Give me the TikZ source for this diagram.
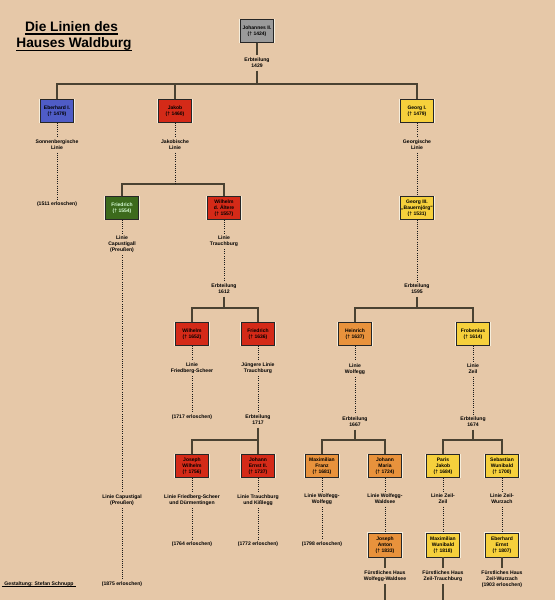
\documentclass[tikz,border=0pt]{standalone}
\usepackage{fontspec}
\setmainfont{Liberation Sans}
\definecolor{bg}{HTML}{E6C8A8}
\definecolor{halo}{HTML}{F6EEDC}
\definecolor{linec}{HTML}{4A4232}
\definecolor{cgray}{HTML}{9A9A9A}
\definecolor{cblue}{HTML}{4F5CC6}
\definecolor{cred}{HTML}{D42A18}
\definecolor{cgreen}{HTML}{3C6A1C}
\definecolor{cyel}{HTML}{F6D03C}
\definecolor{corange}{HTML}{E8923C}
\begin{document}
\begin{tikzpicture}[x=1pt,y=-1pt,
  lab/.style={font=\bfseries\fontsize{5.1}{6.2}\selectfont, align=center, inner sep=0.6pt, outer sep=2pt},
  box/.style={draw=black!85, line width=0.7pt, minimum width=33pt, minimum height=22.5pt, inner sep=1pt, align=center, font=\bfseries\fontsize{5}{6}\selectfont, preaction={draw=halo, line width=2.2pt}},
  conn/.style={draw=linec, line width=1.4pt, preaction={draw=halo, line width=2.7pt}},
  dotl/.style={draw=black!90, line width=1pt, dash pattern=on 1pt off 1.2pt},
  title/.style={font=\bfseries\fontsize{13.7}{16}\selectfont, inner sep=0pt, anchor=base},
  uline/.style={line width=1.4pt}
]
\fill[bg] (0,0) rectangle (555,600);
\useasboundingbox (0,0) rectangle (555,600);

% title
\node[title] (t1) at (71.5,31) {Die Linien des};
\node[title] (t2) at (74,47) {Hauses Waldburg};
\draw[uline] ([yshift=-3pt]t1.base west) -- ([yshift=-3pt]t1.base east);
\draw[uline] ([yshift=-3.2pt]t2.base west) -- ([yshift=-3.2pt]t2.base east);

% boxes
\node[box, fill=cgray] (jo) at (257,31) {Johannes II.\\(† 1424)};
\node[box, fill=cblue] (eb) at (57,111) {Eberhard I.\\(† 1479)};
\node[box, fill=cred] (ja) at (175,111) {Jakob\\(† 1460)};
\node[box, fill=cyel] (ge) at (417,111) {Georg I.\\(† 1479)};
\node[box, fill=cgreen, text=white!85!green] (fr1) at (122,208) {Friedrich\\(† 1554)};
\node[box, fill=cred] (wa) at (224,208) {Wilhelm\\d. Ältere\\(† 1557)};
\node[box, fill=cyel] (g3) at (417,208) {Georg III.\\„Bauernjörg“\\(† 1531)};
\node[box, fill=cred] (wh) at (192,334) {Wilhelm\\(† 1652)};
\node[box, fill=cred] (fr2) at (258,334) {Friedrich\\(† 1636)};
\node[box, fill=corange] (he) at (355,334) {Heinrich\\(† 1637)};
\node[box, fill=cyel] (fb) at (473,334) {Frobenius\\(† 1614)};
\node[box, fill=cred] (jw) at (192,466) {Joseph\\Wilhelm\\(† 1756)};
\node[box, fill=cred] (je) at (258,466) {Johann\\Ernst II.\\(† 1737)};
\node[box, fill=corange] (mf) at (322,466) {Maximilian\\Franz\\(† 1681)};
\node[box, fill=corange] (jm) at (385,466) {Johann\\Maria\\(† 1724)};
\node[box, fill=cyel] (pj) at (443,466) {Paris\\Jakob\\(† 1684)};
\node[box, fill=cyel] (sw) at (502,466) {Sebastian\\Wunibald\\(† 1700)};
\node[box, fill=corange, minimum height=24pt] (jan) at (385,545) {Joseph\\Anton\\(† 1833)};
\node[box, fill=cyel, minimum height=24pt] (mw) at (443,545) {Maximilian\\Wunibald\\(† 1818)};
\node[box, fill=cyel, minimum height=24pt] (ee) at (502,545) {Eberhard\\Ernst\\(† 1807)};

% labels
\node[lab] (e1429) at (257,63) {Erbteilung\\1429};
\node[lab] (sl) at (57,145) {Sonnenbergische\\Linie};
\node[lab] (jl) at (175,145) {Jakobische\\Linie};
\node[lab] (gl) at (417,145) {Georgische\\Linie};
\node[lab] (x1511) at (57,204) {(1511 erloschen)};
\node[lab] (cl1) at (122,244) {Linie\\Capustigall\\(Preußen)};
\node[lab] (tl) at (224,241) {Linie\\Trauchburg};
\node[lab] (e1612) at (224,289) {Erbteilung\\1612};
\node[lab] (e1595) at (417,289) {Erbteilung\\1595};
\node[lab] (fsl) at (192,368) {Linie\\Friedberg-Scheer};
\node[lab] (jtl) at (258,368) {Jüngere Linie\\Trauchburg};
\node[lab] (wl) at (355,369) {Linie\\Wolfegg};
\node[lab] (zl) at (473,369) {Linie\\Zeil};
\node[lab] (x1717) at (192,417) {(1717 erloschen)};
\node[lab] (e1717) at (258,420) {Erbteilung\\1717};
\node[lab] (e1667) at (355,422) {Erbteilung\\1667};
\node[lab] (e1674) at (473,422) {Erbteilung\\1674};
\node[lab] (fsd) at (192,500) {Linie Friedberg-Scheer\\und Dürmentingen};
\node[lab] (tk) at (258,500) {Linie Trauchburg\\und Kißlegg};
\node[lab] (wwo) at (322,499) {Linie Wolfegg-\\Wolfegg};
\node[lab] (wwa) at (385,499) {Linie Wolfegg-\\Waldsee};
\node[lab] (zz) at (443,499) {Linie Zeil-\\Zeil};
\node[lab] (zw) at (502,499) {Linie Zeil-\\Wurzach};
\node[lab] (x1764) at (192,544) {(1764 erloschen)};
\node[lab] (x1772) at (258,544) {(1772 erloschen)};
\node[lab] (x1798) at (322,544) {(1798 erloschen)};
\node[lab] (cl2) at (122,500) {Linie Capustigal\\(Preußen)};
\node[lab] (x1875) at (122,584) {(1875 erloschen)};
\node[lab] (fh1) at (385,576) {Fürstliches Haus\\Wolfegg-Waldsee};
\node[lab] (fh2) at (443,576) {Fürstliches Haus\\Zeil-Trauchburg};
\node[lab] (fh3) at (502,579) {Fürstliches Haus\\Zeil-Wurzach\\(1903 erloschen)};
\node[lab] (gest) at (39,584) {Gestaltung: Stefan Schnupp};
\draw[line width=0.7pt] ([yshift=-1.2pt]gest.base west) -- ([yshift=-1.2pt]gest.base east);

% junction coordinates
\coordinate (h1) at (257,84);
\coordinate (c1) at (175,184);
\coordinate (c2) at (224,308);
\coordinate (c3) at (417,308);
\coordinate (c4) at (355,440);
\coordinate (c5) at (473,440);
\coordinate (c6) at (258,440);
\coordinate (b1) at (385,600);
\coordinate (b2) at (443,600);

% solid connectors
\draw[conn] (jo.south) -- (e1429.north) (e1429.south) -- (h1)
  (eb.north) |- (ge.north |- h1) -- (ge.north)
  (ja.north) -- (ja.north |- h1);
\draw[conn] (fr1.north) |- (wa.north |- c1) -- (wa.north);
\draw[conn] (e1612.south) -- (c2) (wh.north) |- (fr2.north |- c2) -- (fr2.north);
\draw[conn] (e1595.south) -- (c3) (he.north) |- (fb.north |- c3) -- (fb.north);
\draw[conn] (e1717.south) -- (je.north) (jw.north) |- (c6);
\draw[conn] (e1667.south) -- (c4) (mf.north) |- (jm.north |- c4) -- (jm.north);
\draw[conn] (e1674.south) -- (c5) (pj.north) |- (sw.north |- c5) -- (sw.north);
\draw[conn] (jan.south) -- (fh1.north) (fh1.south) -- (b1);
\draw[conn] (mw.south) -- (fh2.north) (fh2.south) -- (b2);
\draw[conn] (ee.south) -- (fh3.north);

% dotted connectors
\draw[dotl] (eb.south) -- (sl.north) (sl.south) -- (x1511.north);
\draw[dotl] (ja.south) -- (jl.north) (jl.south) -- (c1);
\draw[dotl] (ge.south) -- (gl.north) (gl.south) -- (g3.north) (g3.south) -- (e1595.north);
\draw[dotl] (fr1.south) -- (cl1.north) (cl1.south) -- (cl2.north) (cl2.south) -- (x1875.north);
\draw[dotl] (wa.south) -- (tl.north) (tl.south) -- (e1612.north);
\draw[dotl] (wh.south) -- (fsl.north) (fsl.south) -- (x1717.north);
\draw[dotl] (fr2.south) -- (jtl.north) (jtl.south) -- (e1717.north);
\draw[dotl] (he.south) -- (wl.north) (wl.south) -- (e1667.north);
\draw[dotl] (fb.south) -- (zl.north) (zl.south) -- (e1674.north);
\draw[dotl] (jw.south) -- (fsd.north) (fsd.south) -- (x1764.north);
\draw[dotl] (je.south) -- (tk.north) (tk.south) -- (x1772.north);
\draw[dotl] (mf.south) -- (wwo.north) (wwo.south) -- (x1798.north);
\draw[dotl] (jm.south) -- (wwa.north) (wwa.south) -- (jan.north);
\draw[dotl] (pj.south) -- (zz.north) (zz.south) -- (mw.north);
\draw[dotl] (sw.south) -- (zw.north) (zw.south) -- (ee.north);
\end{tikzpicture}
\end{document}
